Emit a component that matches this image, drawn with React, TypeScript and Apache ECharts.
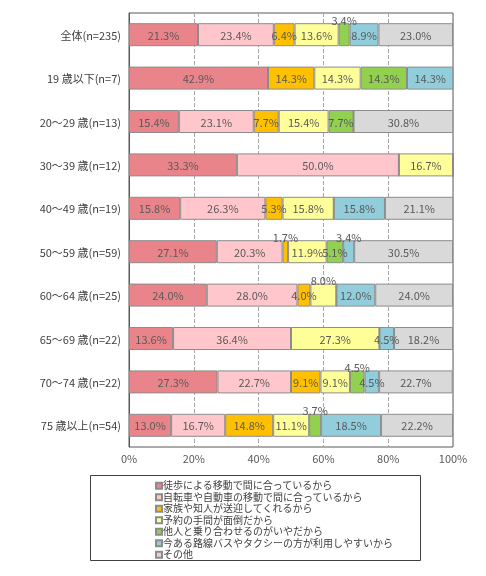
import React, { useEffect, useRef } from "react";
import * as echarts from "echarts";

const categories = [
  "全体(n=235)",
  "19 歳以下(n=7)",
  "20～29 歳(n=13)",
  "30～39 歳(n=12)",
  "40～49 歳(n=19)",
  "50～59 歳(n=59)",
  "60～64 歳(n=25)",
  "65～69 歳(n=22)",
  "70～74 歳(n=22)",
  "75 歳以上(n=54)",
];

const seriesNames = [
  "徒歩による移動で間に合っているから",
  "自転車や自動車の移動で間に合っているから",
  "家族や知人が送迎してくれるから",
  "予約の手間が面倒だから",
  "他人と乗り合わせるのがいやだから",
  "今ある路線バスやタクシーの方が利用しやすいから",
  "その他",
];

const walk = [21.3, 42.9, 15.4, 33.3, 15.8, 27.1, 24.0, 13.6, 27.3, 13.0];
const carBike = [23.4, 0, 23.1, 50.0, 26.3, 20.3, 28.0, 36.4, 22.7, 16.7];
const family = [6.4, 14.3, 7.7, 0, 5.3, 1.7, 4.0, 0, 9.1, 14.8];
const reservation = [13.6, 14.3, 15.4, 16.7, 15.8, 11.9, 8.0, 27.3, 9.1, 11.1];
const sharing = [3.4, 14.3, 7.7, 0, 0, 5.1, 0, 0, 4.5, 3.7];
const busTaxi = [8.9, 14.3, 0, 0, 15.8, 3.4, 12.0, 4.5, 4.5, 18.5];
const other = [23.0, 0, 30.8, 0, 21.1, 30.5, 24.0, 18.2, 22.7, 22.2];

const seriesValues = [walk, carBike, family, reservation, sharing, busTaxi, other];

const colors = ["#E9858A", "#FFC7CB", "#FFC000", "#FFFF99", "#92D050", "#92CDDC", "#D9D9D9"];

// [categoryIndex, seriesIndex] of labels drawn above the bar
const aboveLabels = [
  [0, 4],
  [5, 2],
  [5, 5],
  [6, 3],
  [8, 4],
  [9, 4],
];

const xTicks = [0, 20, 40, 60, 80, 100];

const FONT = "'Noto Sans CJK JP', 'Noto Sans', sans-serif";
const LEGEND_FONT = "'Liberation Sans', 'Noto Sans CJK JP', sans-serif";
const TEXT = "#595959";

export default function App() {
  const ref = useRef<HTMLDivElement>(null);

  useEffect(() => {
    if (!ref.current) return;
    const chart = echarts.init(ref.current, undefined, { renderer: "svg" });

    const series = seriesValues.map((vals, si) => ({
      name: seriesNames[si],
      type: "bar",
      stack: "total",
      barWidth: 23,
      itemStyle: { color: colors[si], borderColor: "#8c8c8c", borderWidth: 1 },
      label: {
        show: true,
        position: "inside",
        color: TEXT,
        fontSize: 11,
        fontFamily: FONT,
        formatter: (p: any) => (p.value > 0 ? p.value.toFixed(1) + "%" : ""),
      },
      data: vals.map((v, ci) => {
        const above = aboveLabels.some(([c, s]) => c === ci && s === si);
        return above
          ? { value: v, label: { position: "top", distance: -2 } }
          : { value: v };
      }),
    }));

    chart.setOption({
      animation: false,
      textStyle: { fontFamily: FONT },
      grid: {
        left: 129,
        top: 13,
        right: 33,
        bottom: 129,
        show: true,
        borderColor: "#595959",
        borderWidth: 1,
      },
      xAxis: {
        type: "value",
        min: xTicks[0],
        max: xTicks[xTicks.length - 1],
        interval: 20,
        axisLine: { show: false },
        axisTick: { show: false },
        axisLabel: {
          formatter: "{value}%",
          color: TEXT,
          fontSize: 11,
          fontFamily: FONT,
          margin: 5,
        },
        splitLine: { show: true, lineStyle: { color: "#A6A6A6", type: "dashed", width: 1 } },
      },
      yAxis: {
        type: "category",
        data: categories,
        inverse: true,
        axisLine: { show: true, lineStyle: { color: "#595959" } },
        axisTick: { show: false },
        axisLabel: { color: "#404040", fontSize: 11, fontFamily: FONT, margin: 8 },
      },
      legend: {
        orient: "vertical",
        left: 155,
        top: 480,
        icon: "rect",
        itemWidth: 6,
        itemHeight: 6,
        itemGap: 0,
        padding: 0,
        textStyle: {
          color: "#404040",
          fontSize: 10,
          lineHeight: 11.5,
          fontFamily: LEGEND_FONT,
          padding: [0, 0, 0, -4],
        },
        data: seriesNames,
      },
      graphic: [
        {
          type: "rect",
          shape: { x: 90.5, y: 475.5, width: 330, height: 85 },
          style: { fill: "none", stroke: "#404040", lineWidth: 1 },
          silent: true,
        },
      ],
      series,
    });

    return () => chart.dispose();
  }, []);

  return (
    <div
      ref={ref}
      style={{ position: "fixed", left: 0, top: 0, width: 486, height: 576 }}
    />
  );
}
